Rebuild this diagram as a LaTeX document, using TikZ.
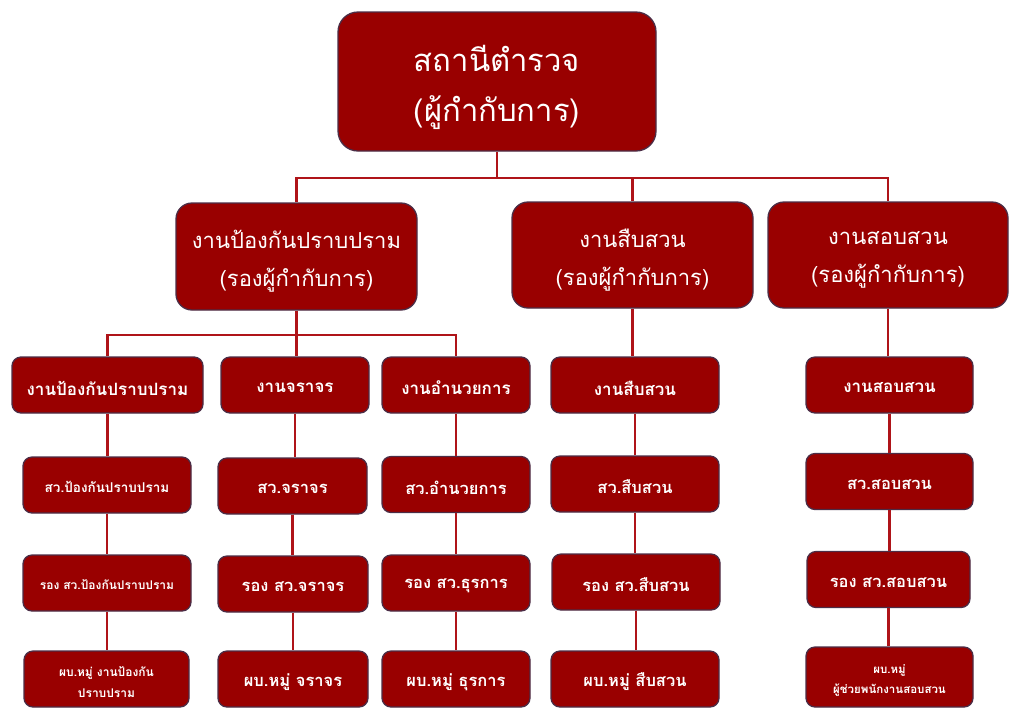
\documentclass[tikz,border=0pt]{standalone}
\usepackage{fontspec}
\setmainfont[Script=Thai]{Loma}
\definecolor{boxc}{RGB}{153,0,0}
\definecolor{bordc}{RGB}{75,45,70}
\definecolor{linec}{RGB}{175,20,25}
\newcommand{\dn}[2]{\raisebox{-#1}[\height][\depth]{#2}}
\begin{document}
\begin{tikzpicture}[x=1pt,y=-1pt,
  box/.style={draw=bordc,fill=boxc,line width=1.3pt,text=white,align=center,inner sep=0pt},
  big/.style={box,rounded corners=20pt},
  mid/.style={box,rounded corners=16pt},
  small/.style={box,rounded corners=9pt,minimum height=56pt},
  conn/.style={draw=linec,line width=2.8pt},
  fA/.style={font=\fontsize{17}{21}\bfseries\selectfont},
  fB/.style={font=\fontsize{16.5}{21}\bfseries\selectfont}]
\path[use as bounding box] (0,0) rectangle (1024,724);
% top
\node[big,minimum width=318pt,minimum height=139pt,font=\fontsize{31}{50}\selectfont] (top) at (497,81.5) {\dn{6pt}{สถานีตำรวจ}\\\dn{6pt}{(ผู้กำกับการ)}};
% level 2
\node[mid,minimum width=241pt,minimum height=107pt,font=\fontsize{22}{38}\selectfont] (A) at (296.5,256.5) {\dn{5pt}{งานป้องกันปราบปราม}\\\dn{5pt}{(รองผู้กำกับการ)}};
\node[mid,minimum width=241pt,minimum height=106pt,font=\fontsize{22}{38}\selectfont] (B) at (632.5,255) {\dn{5pt}{งานสืบสวน}\\\dn{5pt}{(รองผู้กำกับการ)}};
\node[mid,minimum width=240pt,minimum height=106pt,font=\fontsize{22}{38}\selectfont] (C) at (888,255) {\dn{5pt}{งานสอบสวน}\\\dn{5pt}{(รองผู้กำกับการ)}};
% row 3
\node[small,fA,minimum width=191pt] (r3a) at (107.5,385) {\dn{3pt}{งานป้องกันปราบปราม}};
\node[small,fA,minimum width=148pt] (r3b) at (295,385) {\dn{3pt}{งานจราจร}};
\node[small,fA,minimum width=148pt] (r3c) at (456,385) {\dn{3pt}{งานอำนวยการ}};
\node[small,fA,minimum width=168pt] (r3d) at (635,385) {\dn{3pt}{งานสืบสวน}};
\node[small,fA,minimum width=167pt] (r3e) at (889.5,385) {\dn{3pt}{งานสอบสวน}};
% row 4
\node[small,font=\fontsize{13.5}{18}\bfseries\selectfont,minimum width=168pt] (r4a) at (107,485) {\dn{2pt}{สว.ป้องกันปราบปราม}};
\node[small,fB,minimum width=149pt] (r4b) at (292.5,486) {\dn{3pt}{สว.จราจร}};
\node[small,fB,minimum width=148pt] (r4c) at (456,484.5) {\dn{3pt}{สว.อำนวยการ}};
\node[small,fB,minimum width=168pt] (r4d) at (635,484) {\dn{3pt}{สว.สืบสวน}};
\node[small,fB,minimum width=167pt] (r4e) at (889.5,481.5) {\dn{3pt}{สว.สอบสวน}};
% row 5
\node[small,font=\fontsize{12}{16}\bfseries\selectfont,minimum width=168pt] (r5a) at (107,583) {\dn{2pt}{รอง สว.ป้องกันปราบปราม}};
\node[small,fB,minimum width=150pt] (r5b) at (293,584) {\dn{3pt}{รอง สว.จราจร}};
\node[small,fB,minimum width=148pt] (r5c) at (456,583) {\dn{3pt}{รอง สว.ธุรการ}};
\node[small,fB,minimum width=168pt] (r5d) at (636,582) {\dn{3pt}{รอง สว.สืบสวน}};
\node[small,fB,minimum width=163pt] (r5e) at (888.5,579.5) {\dn{3pt}{รอง สว.สอบสวน}};
% row 6
\node[small,font=\fontsize{12}{21}\bfseries\selectfont,minimum width=165pt] (r6a) at (106.5,679) {\dn{3pt}{ผบ.หมู่ งานป้องกัน}\\\dn{3pt}{ปราบปราม}};
\node[small,fB,minimum width=150pt] (r6b) at (293,679) {\dn{3pt}{ผบ.หมู่ จราจร}};
\node[small,fB,minimum width=148pt] (r6c) at (456,679) {\dn{3pt}{ผบ.หมู่ ธุรการ}};
\node[small,fB,minimum width=168pt] (r6d) at (635,679) {\dn{3pt}{ผบ.หมู่ สืบสวน}};
\node[small,font=\fontsize{11.5}{20}\bfseries\selectfont,minimum width=167pt,minimum height=60pt] (r6e) at (889.5,677) {\dn{3pt}{ผบ.หมู่}\\\dn{3pt}{ผู้ช่วยพนักงานสอบสวน}};
% connectors
\coordinate (bar1) at (0,178);
\coordinate (bar2) at (0,335);
\draw[conn] (top.south) -- (top.south |- bar1);
\draw[conn] (A.north) |- (bar1 -| C.north) -- (C.north);
\draw[conn] (B.north) -- (B.north |- bar1);
\draw[conn] (r3a.north) |- (bar2 -| r3c.north) -- (r3c.north);
\draw[conn] (A.south) -- (A.south |- r3b.north);
\draw[conn] (B.south) -- (B.south |- r3d.north);
\draw[conn] (C.south) -- (C.south |- r3e.north);
\foreach \c in {a,b,c,d,e}{
  \draw[conn] (r3\c.south) -- (r3\c.south |- r4\c.north);
  \draw[conn] (r4\c.south) -- (r4\c.south |- r5\c.north);
  \draw[conn] (r5\c.south) -- (r5\c.south |- r6\c.north);
}
\end{tikzpicture}
\end{document}
